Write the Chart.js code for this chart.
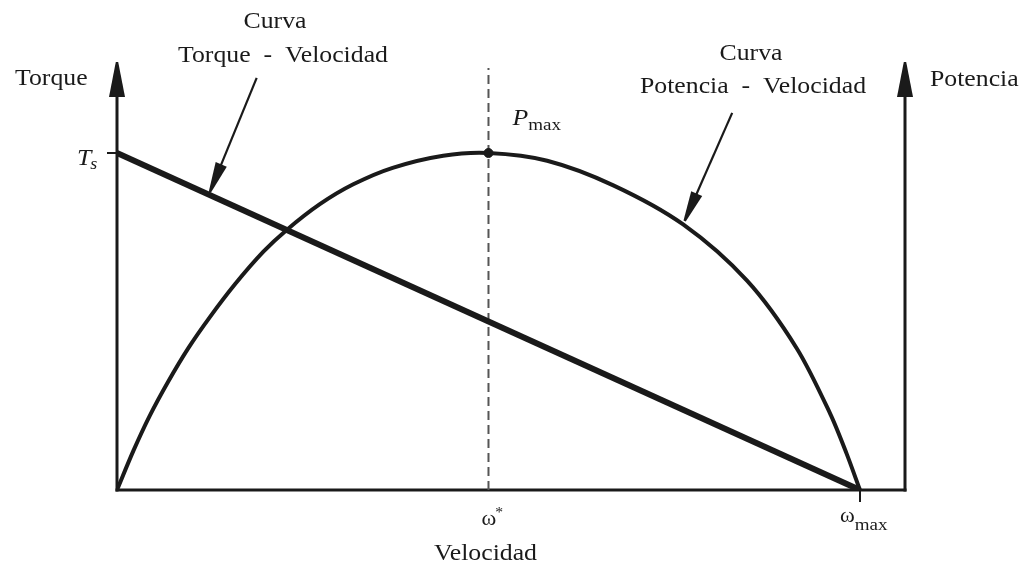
<!DOCTYPE html>
<html>
<head>
<meta charset="utf-8">
<script src="https://cdn.jsdelivr.net/npm/chart.js@4.4.1/dist/chart.umd.min.js"></script>
<style>
  html, body { margin: 0; padding: 0; background: #ffffff; }
  #wrap { width: 1029px; height: 564px; position: relative; }
</style>
</head>
<body>
<div id="wrap"><canvas id="c"></canvas></div>
<script>
// ---- Data (normalized: velocity 1 = ωmax, torque 1 = Ts, power 1 = Pmax) ----
const powerVelocity = [0, 0.022, 0.044, 0.069, 0.096, 0.125, 0.159, 0.197, 0.228, 0.273, 0.318, 0.371, 0.439, 0.5, 0.579, 0.668, 0.762, 0.848, 0.915, 0.960, 0.982, 1.0];
const powerValues   = [0, 0.116, 0.220, 0.322, 0.421, 0.513, 0.611, 0.707, 0.771, 0.848, 0.907, 0.956, 0.992, 1.0, 0.977, 0.904, 0.788, 0.621, 0.420, 0.226, 0.108, 0];
const torqueVelocity = [0, 1];
const torqueValues   = [1, 0];
const omegaStar = 0.5;      // velocity at Pmax
const omegaMax = 1.0;
const torqueStall = 1.0;    // Ts
const powerMax = 1.0;       // Pmax
const xAxisMax = 1.0606;
const yAxisMax = 1.27;

const INK = '#1a1a1a';
const SERIF = '"Liberation Serif", "Times New Roman", serif';
const SX = 1.12; // horizontal stretch of the reference lettering

function toPts(xs, ys) { return xs.map((x, i) => ({ x: x, y: ys[i] })); }

function txt(ctx, s, x, y, size, align, style) {
  ctx.save();
  ctx.font = (style ? style + ' ' : '') + size + 'px ' + SERIF;
  ctx.fillStyle = INK;
  ctx.textAlign = align || 'left';
  ctx.textBaseline = 'alphabetic';
  ctx.translate(x, y);
  ctx.scale(SX, 1);
  ctx.fillText(s, 0, 0);
  const w = ctx.measureText(s).width * SX;
  ctx.restore();
  return w;
}

function arrowHead(ctx, tipX, tipY, fromX, fromY, len, halfW) {
  const a = Math.atan2(tipY - fromY, tipX - fromX);
  const bx = tipX - Math.cos(a) * len, by = tipY - Math.sin(a) * len;
  const nx = -Math.sin(a), ny = Math.cos(a);
  ctx.beginPath();
  ctx.moveTo(tipX + nx * 1.2, tipY + ny * 1.2);
  ctx.lineTo(bx + nx * halfW, by + ny * halfW);
  ctx.lineTo(bx - nx * halfW, by - ny * halfW);
  ctx.lineTo(tipX - nx * 1.2, tipY - ny * 1.2);
  ctx.closePath();
  ctx.fill();
}

function pointer(ctx, x0, y0, x1, y1) {
  ctx.save();
  ctx.strokeStyle = INK; ctx.fillStyle = INK; ctx.lineWidth = 2.2;
  const a = Math.atan2(y1 - y0, x1 - x0);
  ctx.beginPath();
  ctx.moveTo(x0, y0);
  ctx.lineTo(x1 - Math.cos(a) * 20, y1 - Math.sin(a) * 20);
  ctx.stroke();
  arrowHead(ctx, x1, y1, x0, y0, 30, 6);
  ctx.restore();
}

const axesPlugin = {
  id: 'axesPlugin',
  beforeDatasetsDraw(chart) {
    const { ctx, scales: { x, y } } = chart;
    const x0 = x.getPixelForValue(0), y0 = y.getPixelForValue(0);
    const xr = x.getPixelForValue(xAxisMax), yt = y.getPixelForValue(yAxisMax);
    ctx.save();
    ctx.strokeStyle = INK; ctx.fillStyle = INK; ctx.lineWidth = 3;
    ctx.lineCap = 'butt';
    ctx.beginPath(); ctx.moveTo(x0 - 1.5, y0); ctx.lineTo(xr + 1.5, y0); ctx.stroke();
    ctx.beginPath(); ctx.moveTo(x0, y0 + 1.5); ctx.lineTo(x0, yt + 20); ctx.stroke();
    ctx.beginPath(); ctx.moveTo(xr, y0 + 1.5); ctx.lineTo(xr, yt + 20); ctx.stroke();
    arrowHead(ctx, x0, yt, x0, y0, 35, 8);
    arrowHead(ctx, xr, yt, xr, y0, 35, 8);
    const yTs = y.getPixelForValue(torqueStall);
    ctx.lineWidth = 2;
    ctx.beginPath(); ctx.moveTo(x0 - 10, yTs); ctx.lineTo(x0, yTs); ctx.stroke();
    const xwm = x.getPixelForValue(omegaMax);
    ctx.beginPath(); ctx.moveTo(xwm, y0); ctx.lineTo(xwm, y0 + 12); ctx.stroke();
    ctx.restore();
  },
  afterDatasetsDraw(chart) {
    const { ctx, scales: { x, y } } = chart;
    const x0 = x.getPixelForValue(0), y0 = y.getPixelForValue(0);
    const xr = x.getPixelForValue(xAxisMax);
    txt(ctx, 'Torque', 15, 85, 23, 'left');
    txt(ctx, 'Potencia', xr + 25, 86, 23, 'left');
    txt(ctx, 'Velocidad', x.getPixelForValue(omegaStar) - 3, 560, 23, 'center');
    const yTs = y.getPixelForValue(torqueStall);
    let w = txt(ctx, 'T', x0 - 40, yTs + 12, 23, 'left', 'italic');
    txt(ctx, 's', x0 - 40 + w - 1, yTs + 16, 16, 'left', 'italic');
    const xs = x.getPixelForValue(omegaStar), yp = y.getPixelForValue(powerMax);
    w = txt(ctx, 'P', xs + 24, yp - 28, 23, 'left', 'italic');
    txt(ctx, 'max', xs + 24 + w, yp - 23, 17, 'left');
    w = txt(ctx, 'ω', xs - 7, y0 + 35, 20, 'left');
    txt(ctx, '*', xs - 7 + w - 1, y0 + 27, 14, 'left');
    const xm = x.getPixelForValue(omegaMax);
    w = txt(ctx, 'ω', xm - 20, y0 + 32, 20, 'left');
    txt(ctx, 'max', xm - 20 + w, y0 + 40, 17, 'left');
    txt(ctx, 'Curva', 275, 28, 23, 'center');
    txt(ctx, 'Torque\u2002-\u2002Velocidad', 283, 62, 23, 'center');
    txt(ctx, 'Curva', 751, 60, 23, 'center');
    txt(ctx, 'Potencia\u2002-\u2002Velocidad', 753, 93, 23, 'center');
    pointer(ctx, x.getPixelForValue(0.188), y.getPixelForValue(1.223),
                 x.getPixelForValue(0.125), y.getPixelForValue(0.875) - 3);
    pointer(ctx, x.getPixelForValue(0.828), y.getPixelForValue(1.119),
                 x.getPixelForValue(0.764), y.getPixelForValue(0.792) - 2);
  }
};

new Chart(document.getElementById('c'), {
  type: 'scatter',
  data: {
    datasets: [
      {
        label: 'ω*',
        data: [{ x: omegaStar, y: 0 }, { x: omegaStar, y: 1.252 }],
        showLine: true, borderColor: '#555555', borderWidth: 2,
        borderDash: [9, 5], pointRadius: 0, order: 3
      },
      {
        label: 'Curva Potencia - Velocidad',
        data: toPts(powerVelocity, powerValues),
        showLine: true, borderColor: INK, borderWidth: 4,
        tension: 0.3, pointRadius: 0, order: 2
      },
      {
        label: 'Curva Torque - Velocidad',
        data: toPts(torqueVelocity, torqueValues),
        showLine: true, borderColor: INK, borderWidth: 6,
        pointRadius: 0, order: 1
      },
      {
        label: 'Pmax',
        data: [{ x: omegaStar, y: powerMax }],
        pointRadius: 4.5, pointBackgroundColor: INK, pointBorderColor: INK,
        showLine: false, order: 0
      }
    ]
  },
  options: {
    responsive: true,
    maintainAspectRatio: false,
    animation: false,
    layout: { padding: { left: 117, right: 124, top: 62, bottom: 74 } },
    plugins: { legend: { display: false }, tooltip: { enabled: false } },
    scales: {
      x: { type: 'linear', display: false, min: 0, max: xAxisMax },
      y: { type: 'linear', display: false, min: 0, max: yAxisMax }
    }
  },
  plugins: [axesPlugin]
});
</script>
</body>
</html>
